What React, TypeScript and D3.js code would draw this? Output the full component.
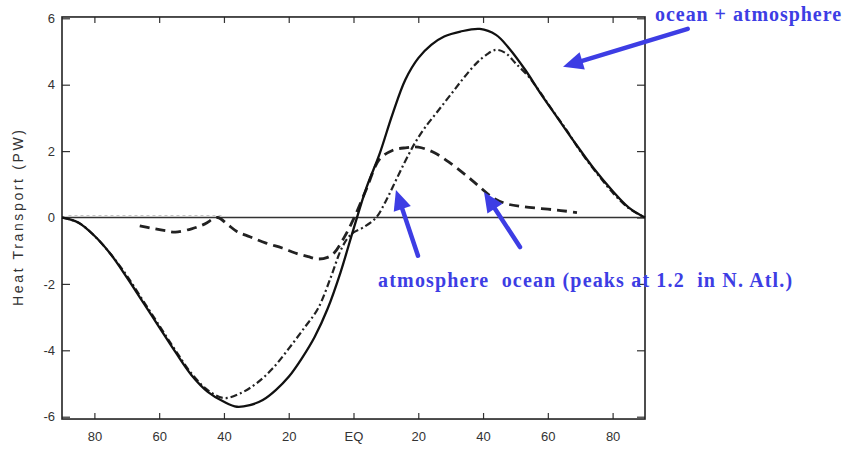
import React, { useEffect, useRef } from "react";
import * as d3 from "d3";

// total (ocean + atmosphere) heat transport, PW
const totalLat = [-90, -85, -80, -75, -70, -65, -60, -55, -50, -45, -40, -36, -32, -28, -24, -20, -16, -12, -8, -4, 0, 4, 8, 12, 16, 20, 24, 28, 33, 39, 44, 48, 53, 58, 63, 68, 74, 80, 85, 90];
const totalPW = [0, -0.15, -0.55, -1.1, -1.8, -2.55, -3.3, -4.05, -4.75, -5.25, -5.55, -5.7, -5.65, -5.5, -5.2, -4.8, -4.25, -3.6, -2.75, -1.65, -0.35, 0.9, 1.9, 3.1, 4.15, 4.8, 5.2, 5.45, 5.6, 5.68, 5.5, 5.1, 4.45, 3.7, 3.0, 2.3, 1.5, 0.8, 0.3, 0];

// atmosphere
const atmLat = [-90, -85, -80, -75, -70, -65, -60, -55, -50, -45, -40, -35, -30, -25, -20, -15, -11, -7, -4, -2, 0, 3, 7, 10, 13, 16, 19, 22, 26, 30, 34, 38, 41, 44, 47, 50, 54, 58, 62, 66, 70, 75, 80, 85, 90];
const atmPW = [0, -0.15, -0.55, -1.1, -1.75, -2.5, -3.25, -4.0, -4.7, -5.2, -5.44, -5.3, -5.0, -4.55, -3.95, -3.3, -2.75, -1.8, -1.0, -0.65, -0.45, -0.3, 0, 0.5, 1.1, 1.7, 2.25, 2.7, 3.2, 3.7, 4.2, 4.65, 4.9, 5.05, 4.95, 4.65, 4.25, 3.72, 3.15, 2.6, 2.0, 1.35, 0.75, 0.28, 0];

// ocean
const ocnLat = [-66, -62, -58, -55, -50, -46, -42, -39, -36, -32, -27, -22, -18, -14, -11, -8, -6, -3, 0, 4, 8, 12, 16, 20, 25, 30, 35, 39, 43, 47, 52, 58, 64, 69];
const ocnPW = [-0.25, -0.33, -0.4, -0.44, -0.34, -0.2, 0, -0.2, -0.42, -0.58, -0.77, -0.92, -1.07, -1.18, -1.25, -1.2, -1.07, -0.62, -0.05, 0.86, 1.75, 2.02, 2.1, 2.12, 1.95, 1.63, 1.25, 0.92, 0.6, 0.42, 0.33, 0.27, 0.21, 0.15];

// faint trace along zero in the far south
const faintLat = [-88, -40];
const faintPW = [0.06, 0.06];

const xTickLats = [-80, -60, -40, -20, 0, 20, 40, 60, 80];
const xTickLabels = ["80", "60", "40", "20", "EQ", "20", "40", "60", "80"];
const yTickValues = [-6, -4, -2, 0, 2, 4, 6];
const yTickLabels = ["-6", "-4", "-2", "0", "2", "4", "6"];

const blue = "#3d3de4";

const App = () => {
  const ref = useRef<SVGSVGElement>(null);

  useEffect(() => {
    const svg = d3.select(ref.current);
    svg.selectAll("*").remove();

    const x = d3.scaleLinear().domain([-90, 90]).range([62, 645]);
    const y = d3.scaleLinear().domain([-6, 6]).range([416.7, 18.3]);

    const top = y(6.04), bottom = y(-6.07);
    const left = x(-90), right = x(90);

    const minorX = d3.range(-90, 91, 10);
    const minorY = d3.range(-6, 6.01, 0.5);

    // bottom axis
    const gb = svg.append("g").attr("transform", `translate(0, ${bottom})`);
    gb.call(d3.axisBottom(x).tickValues(minorX).tickSize(-4).tickFormat(() => ""));
    gb.call(
      d3.axisBottom(x)
        .tickValues(xTickLats)
        .tickSizeInner(-6)
        .tickSizeOuter(0)
        .tickPadding(13)
        .tickFormat((d, i) => xTickLabels[i])
    );
    // top axis
    const gt = svg.append("g").attr("transform", `translate(0, ${top})`);
    gt.call(d3.axisTop(x).tickValues(minorX).tickSize(-4).tickFormat(() => ""));
    gt.call(d3.axisTop(x).tickValues(xTickLats).tickSize(-6).tickFormat(() => ""));
    // left axis
    const gl = svg.append("g").attr("transform", `translate(${left}, 0)`);
    gl.call(d3.axisLeft(y).tickValues(minorY).tickSize(-4).tickFormat(() => ""));
    gl.call(
      d3.axisLeft(y)
        .tickValues(yTickValues)
        .tickSizeInner(-8)
        .tickSizeOuter(0)
        .tickPadding(7)
        .tickFormat((d, i) => yTickLabels[i])
    );
    // right axis
    const gr = svg.append("g").attr("transform", `translate(${right}, 0)`);
    gr.call(d3.axisRight(y).tickValues(minorY).tickSize(-4).tickFormat(() => ""));
    gr.call(d3.axisRight(y).tickValues(yTickValues).tickSize(-8).tickFormat(() => ""));

    svg.selectAll(".domain").remove();
    svg.selectAll(".tick line").attr("stroke", "#333").attr("stroke-width", 1.2);
    svg.selectAll(".tick text")
      .attr("font-family", "Liberation Sans, Arial, sans-serif")
      .attr("font-size", 13)
      .attr("fill", "#333");

    // frame
    svg.append("rect")
      .attr("x", left).attr("y", top)
      .attr("width", right - left).attr("height", bottom - top)
      .attr("fill", "none").attr("stroke", "#222").attr("stroke-width", 1.6);

    // zero line
    svg.append("line")
      .attr("x1", left).attr("x2", right)
      .attr("y1", y(0)).attr("y2", y(0))
      .attr("stroke", "#333").attr("stroke-width", 1.5);

    // y axis title
    svg.append("text")
      .attr("transform", `translate(23, ${(top + bottom) / 2}) rotate(-90)`)
      .attr("text-anchor", "middle")
      .attr("font-family", "Liberation Sans, Arial, sans-serif")
      .attr("font-size", 14)
      .attr("textLength", 176)
      .attr("lengthAdjust", "spacing")
      .attr("fill", "#333")
      .text("Heat Transport (PW)");

    const line = d3.line<[number, number]>()
      .x(d => x(d[0]))
      .y(d => y(d[1]))
      .curve(d3.curveCatmullRom.alpha(0.5));

    const series = [
      { lat: faintLat, val: faintPW, dash: "3,3", width: 1.2, color: "#c4c4c4" },
      { lat: ocnLat, val: ocnPW, dash: "10,6", width: 2.8, color: "#222" },
      { lat: atmLat, val: atmPW, dash: "7,3,2,3", width: 2.2, color: "#222" },
      { lat: totalLat, val: totalPW, dash: null, width: 2.3, color: "#111" },
    ];

    svg.append("g")
      .selectAll("path")
      .data(series)
      .join("path")
      .attr("d", s => line(s.lat.map((l, i) => [l, s.val[i]] as [number, number])))
      .attr("fill", "none")
      .attr("stroke", s => s.color)
      .attr("stroke-width", s => s.width)
      .attr("stroke-dasharray", s => s.dash)
      .attr("stroke-linejoin", "round");

    // annotations (lat, PW)
    const arrows = [
      { from: [103.2, 5.68], to: [64.7, 4.54] },
      { from: [19.9, -1.15], to: [13.1, 0.83] },
      { from: [51.4, -0.89], to: [40.3, 0.77] },
    ];
    const ag = svg.append("g");
    arrows.forEach(a => {
      const x1 = x(a.from[0]), y1 = y(a.from[1]);
      const x2 = x(a.to[0]), y2 = y(a.to[1]);
      const ang = Math.atan2(y2 - y1, x2 - x1);
      const headLen = 20, headW = 9;
      const bx = x2 - headLen * Math.cos(ang), by = y2 - headLen * Math.sin(ang);
      ag.append("line")
        .attr("x1", x1).attr("y1", y1).attr("x2", bx).attr("y2", by)
        .attr("stroke", blue).attr("stroke-width", 4.5).attr("stroke-linecap", "round");
      const px = -Math.sin(ang) * headW, py = Math.cos(ang) * headW;
      ag.append("polygon")
        .attr("points", `${x2},${y2} ${bx + px},${by + py} ${bx - px},${by - py}`)
        .attr("fill", blue);
    });

    const labels = [
      { at: [93.1, 5.92], text: "ocean + atmosphere", len: 186 },
      { at: [7.6, -2.09], text: "atmosphere  ocean (peaks at 1.2  in N. Atl.)", len: 414 },
    ];
    svg.append("g")
      .selectAll("text")
      .data(labels)
      .join("text")
      .attr("x", d => x(d.at[0]))
      .attr("y", d => y(d.at[1]))
      .attr("font-family", "Liberation Serif, Times New Roman, serif")
      .attr("font-weight", "bold")
      .attr("font-size", 20)
      .attr("textLength", d => d.len)
      .attr("lengthAdjust", "spacing")
      .attr("fill", blue)
      .style("white-space", "pre")
      .text(d => d.text);
  }, []);

  return (
    <svg
      ref={ref}
      width={862}
      height={449}
      style={{ position: "absolute", left: 0, top: 0, background: "#fff" }}
    />
  );
};

export default App;
